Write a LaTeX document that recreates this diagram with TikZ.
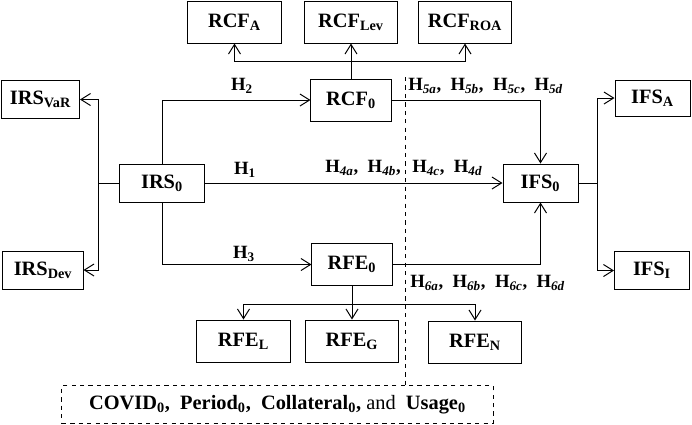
\documentclass[tikz,border=0pt]{standalone}
\usepackage{fontspec}
\setmainfont{Liberation Serif}
\usetikzlibrary{arrows.meta, positioning}

\begin{document}
\begin{tikzpicture}[x=0.025cm, y=-0.025cm,
        box/.style={rectangle, draw, line width=0.7pt, minimum width=2.33cm, minimum height=1.05cm, inner sep=0pt, font=\fontsize{14.5}{16}\selectfont\bfseries},
        core/.style={box, minimum width=2cm},
        side/.style={box, minimum width=1.95cm, minimum height=0.95cm},
        hyp/.style={inner sep=0pt, font=\fontsize{13.3}{15}\selectfont\bfseries},
        arrow/.style={-{Straight Barb[length=0.24cm, width=0.3cm]}, line width=0.7pt},
        link/.style={line width=0.7pt}
    ]
        \useasboundingbox (0,0) rectangle (692,424);
        % moderator blocks
        \node[box] (rcfA) at (234.5,22) {RCF\textsubscript{A}};
        \node[box] (rcfLev) at (351,22) {RCF\textsubscript{Lev}};
        \node[box] (rcfROA) at (465,22) {RCF\textsubscript{ROA}};
        \node[core] (rcf0) at (351,100) {RCF\textsubscript{0}};
        \node[core] (rfe0) at (352,264.5) {RFE\textsubscript{0}};
        \node[box] (rfeL) at (243.5,341) {RFE\textsubscript{L}};
        \node[box] (rfeG) at (352,341) {RFE\textsubscript{G}};
        \node[box] (rfeN) at (475,342) {RFE\textsubscript{N}};
        % independent and dependent
        \node[side] (irsVaR) at (40.5,99.5) {IRS\textsubscript{VaR}};
        \node[side, minimum width=2.1cm] (irs0) at (162,183) {IRS\textsubscript{0}};
        \node[side, minimum width=2cm] (irsDev) at (43,270) {IRS\textsubscript{Dev}};
        \node[side, minimum width=1.875cm] (ifs0) at (540.5,183) {IFS\textsubscript{0}};
        \node[side, minimum width=1.875cm, minimum height=0.9cm] (ifsA) at (652.5,98) {IFS\textsubscript{A}};
        \node[side, minimum width=1.875cm] (ifsI) at (652,270.5) {IFS\textsubscript{I}};
        % controls
        \node[box, dashed, minimum width=10.78cm, minimum height=0.93cm] (ctrl) at (277.5,404.5)
            {COVID\textsubscript{0},\ \ Period\textsubscript{0},\ \ Collateral\textsubscript{0}, {\mdseries and}\ \ Usage\textsubscript{0}};
        % junctions
        \coordinate (rcfJ) at (351,61);
        \coordinate (rfeJ) at (352,304);
        \coordinate (divTop) at (405,77);
        % links
        \draw[arrow] (irs0.west) -- ++(-21,0) |- (irsVaR.east);
        \draw[arrow] (irs0.west) -- ++(-21,0) |- (irsDev.east);
        \draw[arrow] (irs0.north) |- (rcf0.west);
        \draw[arrow] (irs0.east) -- (ifs0.west);
        \draw[arrow] (irs0.south) |- (rfe0.west);
        \draw[arrow] (rcf0.east) -| (ifs0.north);
        \draw[arrow] (rfe0.east) -| (ifs0.south);
        \draw[arrow] (ifs0.east) -- ++(19,0) |- (ifsA.west);
        \draw[arrow] (ifs0.east) -- ++(19,0) |- (ifsI.west);
        \draw[link] (rcf0.north) -- (rcfJ);
        \draw[arrow] (rcfJ) -| (rcfA.south);
        \draw[arrow] (rcfJ) -- (rcfLev.south);
        \draw[arrow] (rcfJ) -| (rcfROA.south);
        \draw[link] (rfe0.south) -- (rfeJ);
        \draw[arrow] (rfeJ) -| (rfeL.north);
        \draw[arrow] (rfeJ) -- (rfeG.north);
        \draw[arrow] (rfeJ) -| (rfeN.north);
        \draw[link, dashed] (divTop) -- (divTop |- ctrl.north);
        % hypotheses
        \node[hyp] (h2) at (242,86) {H\textsubscript{2}};
        \node[hyp] (h1) at (245,170) {H\textsubscript{1}};
        \node[hyp] (h3) at (244,254) {H\textsubscript{3}};
        \node[hyp, anchor=east] (h4l) at (401,168) {H\textsubscript{\itshape 4a},\ \ H\textsubscript{\itshape 4b},};
        \node[hyp, anchor=west] (h4r) at (412,168) {H\textsubscript{\itshape 4c},\ \ H\textsubscript{\itshape 4d}};
        \node[hyp, anchor=west] (h5) at (408,86) {H\textsubscript{\itshape 5a},\ \ H\textsubscript{\itshape 5b},\ \ H\textsubscript{\itshape 5c},\ \ H\textsubscript{\itshape 5d}};
        \node[hyp, anchor=west] (h6) at (410,283) {H\textsubscript{\itshape 6a},\ \ H\textsubscript{\itshape 6b},\ \ H\textsubscript{\itshape 6c},\ \ H\textsubscript{\itshape 6d}};
    \end{tikzpicture}
\end{document}
